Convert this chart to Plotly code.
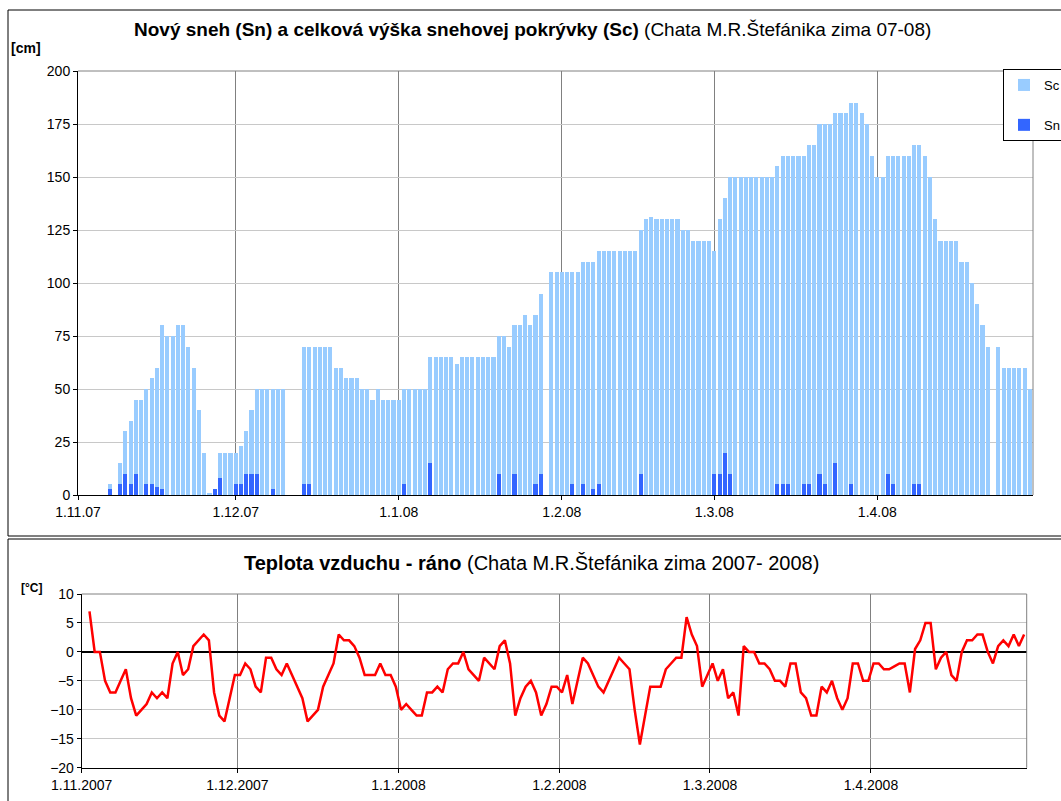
import pandas as pd
import plotly.graph_objects as go

W, H = 1061, 801

# ---------------- data: snow (1.11.2007 - 30.4.2008, daily) ----------------
N = None
sc_nov = [N, N, N, N, N, N, 5, N, 15, 30, 35, 45, 45, 50, 55, 60, 80, 75, 75, 80,
          80, 70, 60, 40, 20, 1, 3, 20, 20, 20]
sn_nov = [N, N, N, N, N, N, 3, N, 5, 10, 5, 10, N, 5, 5, 4, 3, N, N, N,
          N, N, N, N, N, N, 3, 8, N, N]
sc_dec = [20, 23, 30, 40, 50, 50, 50, 50, 50, 50, N, N, N, 70, 70, 70, 70, 70, 70, 60,
          60, 55, 55, 55, 50, 50, 45, 50, 45, 45, 45]
sn_dec = [5, 5, 10, 10, 10, N, N, 3, N, N, N, N, N, 5, 5, N, N, N, N, N,
          N, N, N, N, N, N, N, N, N, N, N]
sc_jan = [45, 50, 50, 50, 50, 50, 65, 65, 65, 65, 65, 62, 65, 65, 65, 65, 65, 65, 65, 75,
          75, 70, 80, 80, 85, 80, 85, 95, N, 105, 105]
sn_jan = [N, 5, N, N, N, N, 15, N, N, N, N, N, N, N, N, N, N, N, N, 10,
          N, N, 10, N, N, N, 5, 10, N, N, N]
sc_feb = [105, 105, 105, 105, 110, 110, 110, 115, 115, 115, 115, 115, 115, 115, 115, 125,
          130, 131, 130, 130, 130, 130, 130, 125, 125, 120, 120, 120, 120]
sn_feb = [N, N, 5, N, 5, N, 3, 5, N, N, N, N, N, N, N, 10,
          N, N, N, N, N, N, N, N, N, N, N, N, N]
sc_mar = [115, 130, 140, 150, 150, 150, 150, 150, 150, 150, 150, 150, 155, 160, 160, 160,
          160, 160, 165, 165, 175, 175, 175, 180, 180, 180, 185, 185, 180, 175, 160]
sn_mar = [10, 10, 20, 10, N, N, N, N, N, N, N, N, 5, 5, 5, N,
          N, 5, 5, N, 10, 5, N, 15, N, N, 5, N, N, N, N]
sc_apr = [150, 150, 160, 160, 160, 160, 160, 165, 165, 160, 150, 130, 120, 120, 120, 120,
          110, 110, 100, 90, 80, 70, N, 70, 60, 60, 60, 60, 60, 50]
sn_apr = [N, N, 10, 5, N, N, N, 5, 5, N, N, N, N, N, N, N,
          N, N, N, N, N, N, N, N, N, N, N, N, N, N]

snow_days = pd.date_range("2007-11-01", "2008-04-30", freq="D")
sc = sc_nov + sc_dec + sc_jan + sc_feb + sc_mar + sc_apr
sn = sn_nov + sn_dec + sn_jan + sn_feb + sn_mar + sn_apr

# ---------------- data: morning air temperature (2.11.2007 - 30.4.2008) ----------------
t_nov = [7, 0, 0, -5, -7, -7, -5, -3, -8, -11, -10, -9, -7, -8, -7, -8, -2, 0, -4, -3,
         1, 2, 3, 2, -7, -11, -12, -8, -4]
t_dec = [-4, -2, -3, -6, -7, -1, -1, -3, -4, -2, -4, -6, -8, -12, -11, -10, -6, -4, -2, 3,
         2, 2, 1, -1, -4, -4, -4, -2, -4, -4, -6]
t_jan = [-10, -9, -10, -11, -11, -7, -7, -6, -7, -3, -2, -2, 0, -3, -4, -5, -1, -2, -3, 1,
         2, -2, -11, -8, -6, -5, -7, -11, -9, -6, -6]
t_feb = [-7, -4, -9, -5, -1, -2, -4, -6, -7, -5, -3, -1, -2, -3, -10, -16, -11, -6, -6, -6,
         -3, -2, -1, -1, 6, 3, 1, -6, -4]
t_mar = [-2, -5, -3, -8, -7, -11, 1, 0, 0, -2, -2, -3, -5, -5, -6, -2, -2, -7, -8, -11,
         -11, -6, -7, -5, -8, -10, -8, -2, -2, -5, -5]
t_apr = [-2, -2, -3, -3, -2.5, -2, -2, -7, 0.5, 2, 5, 5, -3, -1, 0, -4, -5, 0, 2, 2,
         3, 3, 0, -2, 1, 2, 1, 3, 1, 3]
temp_days = pd.date_range("2007-11-02", "2008-04-30", freq="D")
temp = t_nov + t_dec + t_jan + t_feb + t_mar + t_apr

# ---------------- tick labels ----------------
month_starts = pd.date_range("2007-11-01", "2008-04-01", freq="MS")
ticks_top = ["1.11.07", "1.12.07", "1.1.08", "1.2.08", "1.3.08", "1.4.08"]
ticks_bottom = ["1.11.2007", "1.12.2007", "1.1.2008", "1.2.2008", "1.3.2008", "1.4.2008"]

FONT = "Liberation Sans, Arial, sans-serif"
DAY_MS = 86400000


def px(v):
    return v / W


def py(v):
    return 1 - v / H


fig = go.Figure()
fig.add_trace(go.Bar(x=snow_days, y=sc, name="Sc", marker=dict(color="#99CCFF", line=dict(width=0)),
                     width=0.78 * DAY_MS, xaxis="x", yaxis="y", legendgroup="sc"))
fig.add_trace(go.Bar(x=snow_days, y=sn, name="Sn", marker=dict(color="#3366FF", line=dict(width=0)),
                     width=0.78 * DAY_MS, xaxis="x", yaxis="y", legendgroup="sn"))
fig.add_trace(go.Scatter(x=temp_days, y=temp, mode="lines", line=dict(color="#FF0000", width=2.5),
                         xperiod=DAY_MS, xperiodalignment="middle",
                         xaxis="x2", yaxis="y2", showlegend=False))

axis_common = dict(showline=True, linecolor="black", linewidth=1, ticks="outside", ticklen=4,
                   tickcolor="black", tickfont=dict(family=FONT, size=14, color="black"))

fig.update_layout(
    width=W, height=H,
    margin=dict(l=0, r=0, t=0, b=0, autoexpand=False),
    paper_bgcolor="white", plot_bgcolor="white",
    barmode="overlay", bargap=0,
    font=dict(family=FONT, size=14, color="black"),
    xaxis=dict(type="date", domain=[px(78), px(1033)],
               range=["2007-11-01", "2008-04-30 14:24"],
               tickmode="array", tickvals=month_starts, ticktext=ticks_top,
               showgrid=True, gridcolor="#808080", gridwidth=1, zeroline=False,
               anchor="y", **axis_common),
    yaxis=dict(domain=[py(495), py(71)], range=[0, 200], dtick=25,
               showgrid=True, gridcolor="#C8C8C8", gridwidth=1, zeroline=False,
               anchor="x", **axis_common),
    xaxis2=dict(type="date", domain=[px(81.7), px(1026.7)],
                range=["2007-11-01", "2008-05-01"],
                tickmode="array", tickvals=month_starts, ticktext=ticks_bottom,
                showgrid=True, gridcolor="#808080", gridwidth=1, zeroline=False,
                anchor="y2", **axis_common),
    yaxis2=dict(domain=[py(767.7), py(594)], range=[-20, 10], dtick=5,
                showgrid=True, gridcolor="#C8C8C8", gridwidth=1,
                zeroline=True, zerolinecolor="black", zerolinewidth=1.5,
                anchor="x2", **axis_common),
    legend=dict(x=px(1003), y=py(69), xanchor="left", yanchor="top",
                bgcolor="white", bordercolor="black", borderwidth=1,
                font=dict(family=FONT, size=13, color="black"),
                traceorder="grouped", tracegroupgap=20, itemwidth=30),
    showlegend=True,
)

shapes = [
    # chart area frames
    dict(type="rect", xref="paper", yref="paper", x0=px(8), x1=1.02, y0=py(536), y1=py(10),
         line=dict(color="black", width=1), layer="below"),
    dict(type="rect", xref="paper", yref="paper", x0=px(8), x1=1.02, y0=-0.02, y1=py(539),
         line=dict(color="black", width=1), layer="below"),
    # plot area top/right borders
    dict(type="line", xref="x domain", yref="y domain", x0=0, x1=1, y0=1, y1=1,
         line=dict(color="#808080", width=1)),
    dict(type="line", xref="x domain", yref="y domain", x0=1, x1=1, y0=0, y1=1,
         line=dict(color="#808080", width=1)),
    dict(type="line", xref="x2 domain", yref="y2 domain", x0=0, x1=1, y0=1, y1=1,
         line=dict(color="#808080", width=1)),
    dict(type="line", xref="x2 domain", yref="y2 domain", x0=1, x1=1, y0=0, y1=1,
         line=dict(color="#808080", width=1)),
]
fig.update_layout(shapes=shapes)

annotations = [
    dict(text="<b>Nový sneh (Sn) a celková výška snehovej pokrývky (Sc)</b> (Chata M.R.Štefánika zima 07-08)",
         x=px(532.5), y=py(30), xref="paper", yref="paper", xanchor="center", yanchor="middle",
         showarrow=False, font=dict(family=FONT, size=19, color="black")),
    dict(text="<b>[cm]</b>", x=px(9), y=py(48), xref="paper", yref="paper",
         xanchor="left", yanchor="middle", showarrow=False, font=dict(family=FONT, size=14)),
    dict(text="<b>Teplota vzduchu - ráno</b> (Chata M.R.Štefánika zima 2007- 2008)",
         x=px(531.5), y=py(563), xref="paper", yref="paper", xanchor="center", yanchor="middle",
         showarrow=False, font=dict(family=FONT, size=20, color="black")),
    dict(text="<b>[°C]</b>", x=px(19), y=py(588), xref="paper", yref="paper",
         xanchor="left", yanchor="middle", showarrow=False, font=dict(family=FONT, size=12)),
]
fig.update_layout(annotations=annotations)

fig.write_html("out.html", config={"displayModeBar": False},
               post_script="document.body.style.margin='0px';document.body.style.padding='0px';")
